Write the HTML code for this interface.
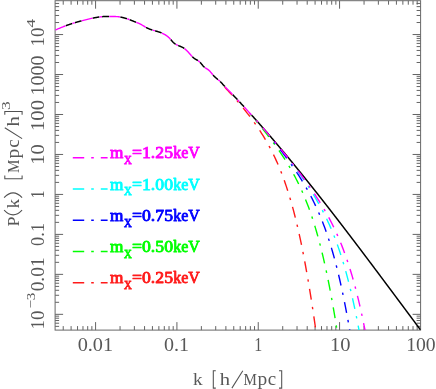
<!DOCTYPE html>
<html><head><meta charset="utf-8"><title>P(k)</title>
<style>html,body{margin:0;padding:0;background:#fff;}svg{display:block;will-change:transform;}text{font-family:"Liberation Serif",serif;}</style></head>
<body>
<svg width="436" height="389" viewBox="0 0 436 389">
<rect width="436" height="389" fill="#fff"/>
<defs><clipPath id="c"><rect x="55.1" y="0.7" width="365.5" height="329.40000000000003"/></clipPath><clipPath id="cr"><rect x="218" y="0.7" width="202.60000000000002" height="329.40000000000003"/></clipPath></defs>
<path d="M63.22,330.1 v-4.0 M63.22,0.7 v4.0 M71.10,330.1 v-4.0 M71.10,0.7 v4.0 M77.54,330.1 v-4.0 M77.54,0.7 v4.0 M82.98,330.1 v-4.0 M82.98,0.7 v4.0 M87.70,330.1 v-4.0 M87.70,0.7 v4.0 M91.86,330.1 v-4.0 M91.86,0.7 v4.0 M95.58,330.1 v-8.0 M95.58,0.7 v8.0 M120.06,330.1 v-4.0 M120.06,0.7 v4.0 M134.38,330.1 v-4.0 M134.38,0.7 v4.0 M144.55,330.1 v-4.0 M144.55,0.7 v4.0 M152.43,330.1 v-4.0 M152.43,0.7 v4.0 M158.87,330.1 v-4.0 M158.87,0.7 v4.0 M164.31,330.1 v-4.0 M164.31,0.7 v4.0 M169.03,330.1 v-4.0 M169.03,0.7 v4.0 M173.19,330.1 v-4.0 M173.19,0.7 v4.0 M176.91,330.1 v-8.0 M176.91,0.7 v8.0 M201.39,330.1 v-4.0 M201.39,0.7 v4.0 M215.71,330.1 v-4.0 M215.71,0.7 v4.0 M225.88,330.1 v-4.0 M225.88,0.7 v4.0 M233.76,330.1 v-4.0 M233.76,0.7 v4.0 M240.20,330.1 v-4.0 M240.20,0.7 v4.0 M245.64,330.1 v-4.0 M245.64,0.7 v4.0 M250.36,330.1 v-4.0 M250.36,0.7 v4.0 M254.52,330.1 v-4.0 M254.52,0.7 v4.0 M258.24,330.1 v-8.0 M258.24,0.7 v8.0 M282.72,330.1 v-4.0 M282.72,0.7 v4.0 M297.04,330.1 v-4.0 M297.04,0.7 v4.0 M307.21,330.1 v-4.0 M307.21,0.7 v4.0 M315.09,330.1 v-4.0 M315.09,0.7 v4.0 M321.53,330.1 v-4.0 M321.53,0.7 v4.0 M326.97,330.1 v-4.0 M326.97,0.7 v4.0 M331.69,330.1 v-4.0 M331.69,0.7 v4.0 M335.85,330.1 v-4.0 M335.85,0.7 v4.0 M339.57,330.1 v-8.0 M339.57,0.7 v8.0 M364.05,330.1 v-4.0 M364.05,0.7 v4.0 M378.37,330.1 v-4.0 M378.37,0.7 v4.0 M388.54,330.1 v-4.0 M388.54,0.7 v4.0 M396.42,330.1 v-4.0 M396.42,0.7 v4.0 M402.86,330.1 v-4.0 M402.86,0.7 v4.0 M408.30,330.1 v-4.0 M408.30,0.7 v4.0 M413.02,330.1 v-4.0 M413.02,0.7 v4.0 M417.18,330.1 v-4.0 M417.18,0.7 v4.0 M55.1,326.37 h4.0 M420.6,326.37 h-4.0 M55.1,323.21 h4.0 M420.6,323.21 h-4.0 M55.1,320.53 h4.0 M420.6,320.53 h-4.0 M55.1,318.21 h4.0 M420.6,318.21 h-4.0 M55.1,316.17 h4.0 M420.6,316.17 h-4.0 M55.1,314.34 h8.0 M420.6,314.34 h-8.0 M55.1,302.31 h4.0 M420.6,302.31 h-4.0 M55.1,295.27 h4.0 M420.6,295.27 h-4.0 M55.1,290.28 h4.0 M420.6,290.28 h-4.0 M55.1,286.40 h4.0 M420.6,286.40 h-4.0 M55.1,283.24 h4.0 M420.6,283.24 h-4.0 M55.1,280.56 h4.0 M420.6,280.56 h-4.0 M55.1,278.24 h4.0 M420.6,278.24 h-4.0 M55.1,276.20 h4.0 M420.6,276.20 h-4.0 M55.1,274.37 h8.0 M420.6,274.37 h-8.0 M55.1,262.34 h4.0 M420.6,262.34 h-4.0 M55.1,255.30 h4.0 M420.6,255.30 h-4.0 M55.1,250.31 h4.0 M420.6,250.31 h-4.0 M55.1,246.43 h4.0 M420.6,246.43 h-4.0 M55.1,243.27 h4.0 M420.6,243.27 h-4.0 M55.1,240.59 h4.0 M420.6,240.59 h-4.0 M55.1,238.27 h4.0 M420.6,238.27 h-4.0 M55.1,236.23 h4.0 M420.6,236.23 h-4.0 M55.1,234.40 h8.0 M420.6,234.40 h-8.0 M55.1,222.37 h4.0 M420.6,222.37 h-4.0 M55.1,215.33 h4.0 M420.6,215.33 h-4.0 M55.1,210.34 h4.0 M420.6,210.34 h-4.0 M55.1,206.46 h4.0 M420.6,206.46 h-4.0 M55.1,203.30 h4.0 M420.6,203.30 h-4.0 M55.1,200.62 h4.0 M420.6,200.62 h-4.0 M55.1,198.30 h4.0 M420.6,198.30 h-4.0 M55.1,196.26 h4.0 M420.6,196.26 h-4.0 M55.1,194.43 h8.0 M420.6,194.43 h-8.0 M55.1,182.40 h4.0 M420.6,182.40 h-4.0 M55.1,175.36 h4.0 M420.6,175.36 h-4.0 M55.1,170.37 h4.0 M420.6,170.37 h-4.0 M55.1,166.49 h4.0 M420.6,166.49 h-4.0 M55.1,163.33 h4.0 M420.6,163.33 h-4.0 M55.1,160.65 h4.0 M420.6,160.65 h-4.0 M55.1,158.33 h4.0 M420.6,158.33 h-4.0 M55.1,156.29 h4.0 M420.6,156.29 h-4.0 M55.1,154.46 h8.0 M420.6,154.46 h-8.0 M55.1,142.43 h4.0 M420.6,142.43 h-4.0 M55.1,135.39 h4.0 M420.6,135.39 h-4.0 M55.1,130.40 h4.0 M420.6,130.40 h-4.0 M55.1,126.52 h4.0 M420.6,126.52 h-4.0 M55.1,123.36 h4.0 M420.6,123.36 h-4.0 M55.1,120.68 h4.0 M420.6,120.68 h-4.0 M55.1,118.36 h4.0 M420.6,118.36 h-4.0 M55.1,116.32 h4.0 M420.6,116.32 h-4.0 M55.1,114.49 h8.0 M420.6,114.49 h-8.0 M55.1,102.46 h4.0 M420.6,102.46 h-4.0 M55.1,95.42 h4.0 M420.6,95.42 h-4.0 M55.1,90.43 h4.0 M420.6,90.43 h-4.0 M55.1,86.55 h4.0 M420.6,86.55 h-4.0 M55.1,83.39 h4.0 M420.6,83.39 h-4.0 M55.1,80.71 h4.0 M420.6,80.71 h-4.0 M55.1,78.39 h4.0 M420.6,78.39 h-4.0 M55.1,76.35 h4.0 M420.6,76.35 h-4.0 M55.1,74.52 h8.0 M420.6,74.52 h-8.0 M55.1,62.49 h4.0 M420.6,62.49 h-4.0 M55.1,55.45 h4.0 M420.6,55.45 h-4.0 M55.1,50.46 h4.0 M420.6,50.46 h-4.0 M55.1,46.58 h4.0 M420.6,46.58 h-4.0 M55.1,43.42 h4.0 M420.6,43.42 h-4.0 M55.1,40.74 h4.0 M420.6,40.74 h-4.0 M55.1,38.42 h4.0 M420.6,38.42 h-4.0 M55.1,36.38 h4.0 M420.6,36.38 h-4.0 M55.1,34.55 h8.0 M420.6,34.55 h-8.0 M55.1,22.52 h4.0 M420.6,22.52 h-4.0 M55.1,15.48 h4.0 M420.6,15.48 h-4.0 M55.1,10.49 h4.0 M420.6,10.49 h-4.0 M55.1,6.61 h4.0 M420.6,6.61 h-4.0 M55.1,3.45 h4.0 M420.6,3.45 h-4.0" stroke="#5c5c5c" stroke-width="0.95" fill="none"/>
<rect x="55.1" y="0.7" width="365.5" height="329.40000000000003" fill="none" stroke="#686868" stroke-width="1"/>
<g clip-path="url(#c)" fill="none">
<path d="M55.40,29.92 L55.65,29.82 L55.90,29.73 L56.15,29.63 L56.40,29.53 L56.65,29.42 L56.90,29.32 L57.15,29.22 L57.40,29.12 L57.65,29.01 L57.90,28.91 L58.15,28.80 L58.40,28.70 L58.65,28.59 L58.90,28.49 L59.15,28.38 L59.40,28.28 L59.65,28.17 L59.90,28.07 L60.15,27.96 L60.40,27.86 L60.65,27.75 L60.90,27.65 L61.15,27.54 L61.40,27.44 L61.65,27.34 L61.90,27.24 L62.15,27.14 L62.40,27.03 L62.65,26.93 L62.90,26.83 L63.15,26.74 L63.40,26.64 L63.65,26.54 L63.90,26.44 L64.15,26.35 L64.40,26.25 L64.65,26.15 L64.90,26.06 L65.15,25.96 L65.40,25.87 L65.65,25.78 L65.90,25.68 L66.15,25.59 L66.40,25.50 L66.65,25.41 L66.90,25.32 L67.15,25.23 L67.40,25.14 L67.65,25.05 L67.90,24.96 L68.15,24.87 L68.40,24.79 L68.65,24.70 L68.90,24.61 L69.15,24.53 L69.40,24.44 L69.65,24.36 L69.90,24.27 L70.15,24.19 L70.40,24.11 L70.65,24.02 L70.90,23.94 L71.15,23.86 L71.40,23.78 L71.65,23.70 L71.90,23.62 L72.15,23.54 L72.40,23.46 L72.65,23.38 L72.90,23.30 L73.15,23.22 L73.40,23.14 L73.65,23.07 L73.90,22.99 L74.15,22.91 L74.40,22.84 L74.65,22.76 L74.90,22.69 L75.15,22.61 L75.40,22.54 L75.65,22.47 L75.90,22.39 L76.15,22.32 L76.40,22.25 L76.65,22.18 L76.90,22.10 L77.15,22.03 L77.40,21.96 L77.65,21.89 L77.90,21.82 L78.15,21.75 L78.40,21.68 L78.65,21.61 L78.90,21.54 L79.15,21.48 L79.40,21.41 L79.65,21.34 L79.90,21.27 L80.15,21.20 L80.40,21.14 L80.65,21.07 L80.90,21.00 L81.15,20.94 L81.40,20.87 L81.65,20.81 L81.90,20.74 L82.15,20.68 L82.40,20.61 L82.65,20.55 L82.90,20.48 L83.15,20.42 L83.40,20.35 L83.65,20.29 L83.90,20.23 L84.15,20.16 L84.40,20.10 L84.65,20.04 L84.90,19.97 L85.15,19.91 L85.40,19.85 L85.65,19.79 L85.90,19.73 L86.15,19.66 L86.40,19.60 L86.65,19.54 L86.90,19.48 L87.15,19.42 L87.40,19.36 L87.65,19.30 L87.90,19.24 L88.15,19.18 L88.40,19.12 L88.65,19.06 L88.90,19.00 L89.15,18.95 L89.40,18.89 L89.65,18.83 L89.90,18.77 L90.15,18.72 L90.40,18.66 L90.65,18.60 L90.90,18.55 L91.15,18.49 L91.40,18.44 L91.65,18.38 L91.90,18.33 L92.15,18.28 L92.40,18.22 L92.65,18.17 L92.90,18.12 L93.15,18.07 L93.40,18.01 L93.65,17.96 L93.90,17.91 L94.15,17.86 L94.40,17.81 L94.65,17.76 L94.90,17.71 L95.15,17.67 L95.40,17.62 L95.65,17.57 L95.90,17.53 L96.15,17.48 L96.40,17.43 L96.65,17.39 L96.90,17.35 L97.15,17.30 L97.40,17.26 L97.65,17.22 L97.90,17.18 L98.15,17.14 L98.40,17.10 L98.65,17.06 L98.90,17.03 L99.15,16.99 L99.40,16.96 L99.65,16.92 L99.90,16.89 L100.15,16.86 L100.40,16.83 L100.65,16.81 L100.90,16.78 L101.15,16.75 L101.40,16.73 L101.65,16.71 L101.90,16.69 L102.15,16.67 L102.40,16.65 L102.65,16.64 L102.90,16.62 L103.15,16.61 L103.40,16.59 L103.65,16.58 L103.90,16.57 L104.15,16.56 L104.40,16.55 L104.65,16.54 L104.90,16.53 L105.15,16.53 L105.40,16.52 L105.65,16.51 L105.90,16.51 L106.15,16.51 L106.40,16.50 L106.65,16.50 L106.90,16.50 L107.15,16.49 L107.40,16.49 L107.65,16.49 L107.90,16.49 L108.15,16.49 L108.40,16.49 L108.65,16.49 L108.90,16.49 L109.15,16.49 L109.40,16.49 L109.65,16.49 L109.90,16.49 L110.15,16.49 L110.40,16.49 L110.65,16.49 L110.90,16.49 L111.15,16.49 L111.40,16.50 L111.65,16.50 L111.90,16.50 L112.15,16.50 L112.40,16.50 L112.65,16.50 L112.90,16.50 L113.15,16.50 L113.40,16.51 L113.65,16.51 L113.90,16.51 L114.15,16.51 L114.40,16.52 L114.65,16.52 L114.90,16.53 L115.15,16.53 L115.40,16.54 L115.65,16.55 L115.90,16.56 L116.15,16.57 L116.40,16.58 L116.65,16.60 L116.90,16.61 L117.15,16.63 L117.40,16.65 L117.65,16.68 L117.90,16.70 L118.15,16.73 L118.40,16.76 L118.65,16.79 L118.90,16.82 L119.15,16.85 L119.40,16.89 L119.65,16.93 L119.90,16.97 L120.15,17.02 L120.40,17.06 L120.65,17.11 L120.90,17.15 L121.15,17.20 L121.40,17.26 L121.65,17.31 L121.90,17.36 L122.15,17.42 L122.40,17.48 L122.65,17.54 L122.90,17.60 L123.15,17.66 L123.40,17.72 L123.65,17.79 L123.90,17.85 L124.15,17.92 L124.40,17.99 L124.65,18.06 L124.90,18.13 L125.15,18.20 L125.40,18.27 L125.65,18.34 L125.90,18.42 L126.15,18.49 L126.40,18.57 L126.65,18.65 L126.90,18.73 L127.15,18.81 L127.40,18.89 L127.65,18.98 L127.90,19.06 L128.15,19.15 L128.40,19.24 L128.65,19.33 L128.90,19.42 L129.15,19.51 L129.40,19.60 L129.65,19.69 L129.90,19.79 L130.15,19.89 L130.40,19.98 L130.65,20.08 L130.90,20.18 L131.15,20.28 L131.40,20.38 L131.65,20.49 L131.90,20.59 L132.15,20.69 L132.40,20.79 L132.65,20.90 L132.90,21.00 L133.15,21.10 L133.40,21.21 L133.65,21.31 L133.90,21.41 L134.15,21.52 L134.40,21.62 L134.65,21.72 L134.90,21.82 L135.15,21.92 L135.40,22.02 L135.65,22.12 L135.90,22.22 L136.15,22.31 L136.40,22.41 L136.65,22.51 L136.90,22.61 L137.15,22.71 L137.40,22.81 L137.65,22.91 L137.90,23.01 L138.15,23.12 L138.40,23.22 L138.65,23.33 L138.90,23.44 L139.15,23.55 L139.40,23.67 L139.65,23.78 L139.90,23.90 L140.15,24.02 L140.40,24.15 L140.65,24.28 L140.90,24.41 L141.15,24.54 L141.40,24.68 L141.65,24.82 L141.90,24.96 L142.15,25.11 L142.40,25.25 L142.65,25.40 L142.90,25.55 L143.15,25.70 L143.40,25.85 L143.65,26.00 L143.90,26.15 L144.15,26.30 L144.40,26.45 L144.65,26.59 L144.90,26.74 L145.15,26.89 L145.40,27.03 L145.65,27.17 L145.90,27.31 L146.15,27.45 L146.40,27.58 L146.65,27.71 L146.90,27.84 L147.15,27.96 L147.40,28.09 L147.65,28.21 L147.90,28.32 L148.15,28.44 L148.40,28.55 L148.65,28.66 L148.90,28.77 L149.15,28.87 L149.40,28.98 L149.65,29.08 L149.90,29.17 L150.15,29.27 L150.40,29.36 L150.65,29.46 L150.90,29.55 L151.15,29.64 L151.40,29.72 L151.65,29.81 L151.90,29.89 L152.15,29.97 L152.40,30.05 L152.65,30.13 L152.90,30.21 L153.15,30.28 L153.40,30.36 L153.65,30.43 L153.90,30.51 L154.15,30.58 L154.40,30.65 L154.65,30.72 L154.90,30.79 L155.15,30.86 L155.40,30.92 L155.65,30.99 L155.90,31.06 L156.15,31.13 L156.40,31.20 L156.65,31.27 L156.90,31.34 L157.15,31.41 L157.40,31.48 L157.65,31.55 L157.90,31.63 L158.15,31.70 L158.40,31.78 L158.65,31.85 L158.90,31.93 L159.15,32.01 L159.40,32.10 L159.65,32.18 L159.90,32.27 L160.15,32.36 L160.40,32.45 L160.65,32.54 L160.90,32.64 L161.15,32.74 L161.40,32.84 L161.65,32.95 L161.90,33.05 L162.15,33.16 L162.40,33.28 L162.65,33.40 L162.90,33.52 L163.15,33.64 L163.40,33.77 L163.65,33.90 L163.90,34.03 L164.15,34.17 L164.40,34.31 L164.65,34.45 L164.90,34.60 L165.15,34.75 L165.40,34.91 L165.65,35.07 L165.90,35.23 L166.15,35.40 L166.40,35.57 L166.65,35.75 L166.90,35.93 L167.15,36.12 L167.40,36.31 L167.65,36.51 L167.90,36.71 L168.15,36.92 L168.40,37.14 L168.65,37.36 L168.90,37.60 L169.15,37.84 L169.40,38.08 L169.65,38.34 L169.90,38.60 L170.15,38.87 L170.40,39.15 L170.65,39.43 L170.90,39.72 L171.15,40.01 L171.40,40.30 L171.65,40.59 L171.90,40.88 L172.15,41.17 L172.40,41.45 L172.65,41.73 L172.90,41.99 L173.15,42.25 L173.40,42.50 L173.65,42.73 L173.90,42.96 L174.15,43.17 L174.40,43.37 L174.65,43.57 L174.90,43.75 L175.15,43.93 L175.40,44.10 L175.65,44.25 L175.90,44.41 L176.15,44.55 L176.40,44.69 L176.65,44.82 L176.90,44.95 L177.15,45.07 L177.40,45.19 L177.65,45.30 L177.90,45.41 L178.15,45.52 L178.40,45.62 L178.65,45.72 L178.90,45.82 L179.15,45.92 L179.40,46.02 L179.65,46.11 L179.90,46.21 L180.15,46.31 L180.40,46.41 L180.65,46.51 L180.90,46.61 L181.15,46.72 L181.40,46.83 L181.65,46.94 L181.90,47.06 L182.15,47.18 L182.40,47.31 L182.65,47.44 L182.90,47.58 L183.15,47.72 L183.40,47.87 L183.65,48.03 L183.90,48.20 L184.15,48.38 L184.40,48.56 L184.65,48.75 L184.90,48.95 L185.15,49.15 L185.40,49.37 L185.65,49.58 L185.90,49.81 L186.15,50.04 L186.40,50.28 L186.65,50.52 L186.90,50.77 L187.15,51.02 L187.40,51.27 L187.65,51.53 L187.90,51.80 L188.15,52.07 L188.40,52.34 L188.65,52.62 L188.90,52.89 L189.15,53.17 L189.40,53.45 L189.65,53.73 L189.90,54.01 L190.15,54.29 L190.40,54.57 L190.65,54.85 L190.90,55.13 L191.15,55.40 L191.40,55.67 L191.65,55.94 L191.90,56.20 L192.15,56.46 L192.40,56.71 L192.65,56.96 L192.90,57.20 L193.15,57.43 L193.40,57.65 L193.65,57.87 L193.90,58.08 L194.15,58.28 L194.40,58.48 L194.65,58.66 L194.90,58.83 L195.15,59.00 L195.40,59.15 L195.65,59.30 L195.90,59.44 L196.15,59.58 L196.40,59.71 L196.65,59.85 L196.90,59.98 L197.15,60.11 L197.40,60.25 L197.65,60.40 L197.90,60.55 L198.15,60.71 L198.40,60.88 L198.65,61.06 L198.90,61.25 L199.15,61.46 L199.40,61.68 L199.65,61.92 L199.90,62.17 L200.15,62.44 L200.40,62.71 L200.65,62.99 L200.90,63.28 L201.15,63.58 L201.40,63.88 L201.65,64.18 L201.90,64.48 L202.15,64.78 L202.40,65.08 L202.65,65.37 L202.90,65.66 L203.15,65.94 L203.40,66.20 L203.65,66.46 L203.90,66.71 L204.15,66.94 L204.40,67.15 L204.65,67.35 L204.90,67.55 L205.15,67.73 L205.40,67.90 L205.65,68.07 L205.90,68.23 L206.15,68.39 L206.40,68.54 L206.65,68.70 L206.90,68.85 L207.15,69.01 L207.40,69.17 L207.65,69.34 L207.90,69.51 L208.15,69.69 L208.40,69.88 L208.65,70.09 L208.90,70.30 L209.15,70.53 L209.40,70.77 L209.65,71.02 L209.90,71.29 L210.15,71.56 L210.40,71.84 L210.65,72.13 L210.90,72.43 L211.15,72.72 L211.40,73.03 L211.65,73.33 L211.90,73.64 L212.15,73.94 L212.40,74.24 L212.65,74.54 L212.90,74.84 L213.15,75.13 L213.40,75.41 L213.65,75.69 L213.90,75.96 L214.15,76.22 L214.40,76.47 L214.65,76.71 L214.90,76.95 L215.15,77.18 L215.40,77.40 L215.65,77.62 L215.90,77.84 L216.15,78.05 L216.40,78.26 L216.65,78.47 L216.90,78.67 L217.15,78.88 L217.40,79.08 L217.65,79.29 L217.90,79.49 L218.15,79.70 L218.40,79.91 L218.65,80.12 L218.90,80.34 L219.15,80.56 L219.40,80.79 L219.65,81.02 L219.90,81.26 L220.15,81.51 L220.40,81.75 L220.65,82.00 L220.90,82.26 L221.15,82.52 L221.40,82.78 L221.65,83.05 L221.90,83.31 L222.15,83.58 L222.40,83.85 L222.65,84.13 L222.90,84.40 L223.15,84.68 L223.40,84.95 L223.65,85.23 L223.90,85.50 L224.15,85.78 L224.40,86.05 L224.65,86.33 L224.90,86.60 L225.15,86.87 L225.40,87.14 L225.65,87.41 L225.90,87.67 L226.15,87.94 L226.40,88.20 L226.65,88.46 L226.90,88.72 L227.15,88.98 L227.40,89.24 L227.65,89.50 L227.90,89.76 L228.15,90.01 L228.40,90.27 L228.65,90.52 L228.90,90.78 L229.15,91.03 L229.40,91.29 L229.65,91.54 L229.90,91.79 L230.15,92.05 L230.40,92.30 L230.65,92.55 L230.90,92.81 L231.15,93.06 L231.40,93.32 L231.65,93.57 L231.90,93.83 L232.15,94.09 L232.40,94.35 L232.65,94.60 L232.90,94.86 L233.15,95.12 L233.40,95.38 L233.65,95.64 L233.90,95.90 L234.15,96.17 L234.40,96.43 L234.65,96.69 L234.90,96.96 L235.15,97.22 L235.40,97.49 L235.65,97.75 L235.90,98.02 L236.15,98.28 L236.40,98.55 L236.65,98.81 L236.90,99.08 L237.15,99.35 L237.40,99.62 L237.65,99.88 L237.90,100.15 L238.15,100.42 L238.40,100.69 L238.65,100.96 L238.90,101.23 L239.15,101.50 L239.40,101.77 L239.65,102.04 L239.90,102.31 L240.15,102.57 L240.40,102.84 L240.65,103.11 L240.90,103.38 L241.15,103.65 L241.40,103.92 L241.65,104.19 L241.90,104.46 L242.15,104.73 L242.40,105.00 L242.65,105.28 L242.90,105.55 L243.15,105.82 L243.40,106.09 L243.65,106.36 L243.90,106.63 L244.15,106.90 L244.40,107.17 L244.65,107.44 L244.90,107.72 L245.15,107.99 L245.40,108.26 L245.65,108.53 L245.90,108.80 L246.15,109.08 L246.40,109.35 L246.65,109.62 L246.90,109.90 L247.15,110.17 L247.40,110.44 L247.65,110.72 L247.90,110.99 L248.15,111.27 L248.40,111.54 L248.65,111.81 L248.90,112.09 L249.15,112.36 L249.40,112.64 L249.65,112.92 L249.90,113.19 L250.15,113.47 L250.40,113.74 L250.65,114.02 L250.90,114.30 L251.15,114.57 L251.40,114.85 L251.55,115.02" stroke="#000" stroke-width="1.5" stroke-dasharray="0 11.2 6.85 2.8 6.85 0.2" stroke-linejoin="round"/>
<path d="M251.55,115.02 L251.65,115.13 L251.90,115.41 L252.15,115.68 L252.40,115.96 L252.65,116.24 L252.90,116.52 L253.15,116.80 L253.40,117.08 L253.65,117.36 L253.90,117.63 L254.15,117.91 L254.40,118.19 L254.65,118.47 L254.90,118.75 L255.15,119.03 L255.40,119.31 L255.65,119.59 L255.90,119.87 L256.15,120.15 L256.40,120.44 L256.65,120.72 L256.90,121.00 L257.15,121.28 L257.40,121.56 L257.65,121.84 L257.90,122.13 L258.15,122.41 L258.40,122.69 L258.65,122.97 L258.90,123.25 L259.15,123.54 L259.40,123.82 L259.65,124.10 L259.90,124.39 L260.15,124.67 L260.40,124.95 L260.65,125.24 L260.90,125.52 L261.15,125.81 L261.40,126.09 L261.65,126.38 L261.90,126.66 L262.15,126.95 L262.40,127.23 L262.65,127.52 L262.90,127.80 L263.15,128.09 L263.40,128.37 L263.65,128.66 L263.90,128.95 L264.15,129.23 L264.40,129.52 L264.65,129.80 L264.90,130.09 L265.15,130.38 L265.40,130.67 L265.65,130.95 L265.90,131.24 L266.15,131.53 L266.40,131.82 L266.65,132.10 L266.90,132.39 L267.15,132.68 L267.40,132.97 L267.65,133.26 L267.90,133.55 L268.15,133.84 L268.40,134.13 L268.65,134.42 L268.90,134.71 L269.15,135.00 L269.40,135.29 L269.65,135.58 L269.90,135.87 L270.15,136.16 L270.40,136.45 L270.65,136.74 L270.90,137.03 L271.15,137.32 L271.40,137.61 L271.65,137.90 L271.90,138.19 L272.15,138.49 L272.40,138.78 L272.65,139.07 L272.90,139.36 L273.15,139.65 L273.40,139.95 L273.65,140.24 L273.90,140.53 L274.15,140.83 L274.40,141.12 L274.65,141.41 L274.90,141.71 L275.15,142.00 L275.40,142.29 L275.65,142.59 L275.90,142.88 L276.15,143.18 L276.40,143.47 L276.65,143.77 L276.90,144.06 L277.15,144.36 L277.40,144.65 L277.65,144.95 L277.90,145.24 L278.15,145.54 L278.40,145.83 L278.65,146.13 L278.90,146.43 L279.15,146.72 L279.40,147.02 L279.65,147.31 L279.90,147.61 L280.15,147.91 L280.40,148.21 L280.65,148.50 L280.90,148.80 L281.15,149.10 L281.40,149.39 L281.65,149.69 L281.90,149.99 L282.15,150.29 L282.40,150.59 L282.65,150.89 L282.90,151.18 L283.15,151.48 L283.40,151.78 L283.65,152.08 L283.90,152.38 L284.15,152.68 L284.40,152.98 L284.65,153.28 L284.90,153.58 L285.15,153.88 L285.40,154.18 L285.65,154.48 L285.90,154.78 L286.15,155.08 L286.40,155.38 L286.65,155.68 L286.90,155.98 L287.15,156.28 L287.40,156.58 L287.65,156.88 L287.90,157.19 L288.15,157.49 L288.40,157.79 L288.65,158.09 L288.90,158.39 L289.15,158.70 L289.40,159.00 L289.65,159.30 L289.90,159.60 L290.15,159.91 L290.40,160.21 L290.65,160.51 L290.90,160.82 L291.15,161.12 L291.40,161.42 L291.65,161.73 L291.90,162.03 L292.15,162.33 L292.40,162.64 L292.65,162.94 L292.90,163.25 L293.15,163.55 L293.40,163.86 L293.65,164.16 L293.90,164.47 L294.15,164.77 L294.40,165.08 L294.65,165.38 L294.90,165.69 L295.15,165.99 L295.40,166.30 L295.65,166.60 L295.90,166.91 L296.15,167.22 L296.40,167.52 L296.65,167.83 L296.90,168.13 L297.15,168.44 L297.40,168.75 L297.65,169.05 L297.90,169.36 L298.15,169.67 L298.40,169.98 L298.65,170.28 L298.90,170.59 L299.15,170.90 L299.40,171.21 L299.65,171.51 L299.90,171.82 L300.15,172.13 L300.40,172.44 L300.65,172.75 L300.90,173.06 L301.15,173.37 L301.40,173.67 L301.65,173.98 L301.90,174.29 L302.15,174.60 L302.40,174.91 L302.65,175.22 L302.90,175.53 L303.15,175.84 L303.40,176.15 L303.65,176.46 L303.90,176.77 L304.15,177.08 L304.40,177.39 L304.65,177.70 L304.90,178.01 L305.15,178.32 L305.40,178.63 L305.65,178.94 L305.90,179.26 L306.15,179.57 L306.40,179.88 L306.65,180.19 L306.90,180.50 L307.15,180.81 L307.40,181.12 L307.65,181.44 L307.90,181.75 L308.15,182.06 L308.40,182.37 L308.65,182.69 L308.90,183.00 L309.15,183.31 L309.40,183.62 L309.65,183.94 L309.90,184.25 L310.15,184.56 L310.40,184.88 L310.65,185.19 L310.90,185.50 L311.15,185.82 L311.40,186.13 L311.65,186.44 L311.90,186.76 L312.15,187.07 L312.40,187.39 L312.65,187.70 L312.90,188.02 L313.15,188.33 L313.40,188.64 L313.65,188.96 L313.90,189.27 L314.15,189.59 L314.40,189.90 L314.65,190.22 L314.90,190.53 L315.15,190.85 L315.40,191.17 L315.65,191.48 L315.90,191.80 L316.15,192.11 L316.40,192.43 L316.65,192.75 L316.90,193.06 L317.15,193.38 L317.40,193.69 L317.65,194.01 L317.90,194.33 L318.15,194.64 L318.40,194.96 L318.65,195.28 L318.90,195.60 L319.15,195.91 L319.40,196.23 L319.65,196.55 L319.90,196.86 L320.15,197.18 L320.40,197.50 L320.65,197.82 L320.90,198.14 L321.15,198.45 L321.40,198.77 L321.65,199.09 L321.90,199.41 L322.15,199.73 L322.40,200.05 L322.65,200.36 L322.90,200.68 L323.15,201.00 L323.40,201.32 L323.65,201.64 L323.90,201.96 L324.15,202.28 L324.40,202.60 L324.65,202.92 L324.90,203.24 L325.15,203.56 L325.40,203.88 L325.65,204.20 L325.90,204.52 L326.15,204.84 L326.40,205.16 L326.65,205.48 L326.90,205.80 L327.15,206.12 L327.40,206.44 L327.65,206.76 L327.90,207.08 L328.15,207.40 L328.40,207.72 L328.65,208.04 L328.90,208.36 L329.15,208.68 L329.40,209.01 L329.65,209.33 L329.90,209.65 L330.15,209.97 L330.40,210.29 L330.65,210.61 L330.90,210.94 L331.15,211.26 L331.40,211.58 L331.65,211.90 L331.90,212.22 L332.15,212.55 L332.40,212.87 L332.65,213.19 L332.90,213.51 L333.15,213.84 L333.40,214.16 L333.65,214.48 L333.90,214.80 L334.15,215.13 L334.40,215.45 L334.65,215.77 L334.90,216.10 L335.15,216.42 L335.40,216.74 L335.65,217.07 L335.90,217.39 L336.15,217.71 L336.40,218.04 L336.65,218.36 L336.90,218.69 L337.15,219.01 L337.40,219.33 L337.65,219.66 L337.90,219.98 L338.15,220.31 L338.40,220.63 L338.65,220.96 L338.90,221.28 L339.15,221.61 L339.40,221.93 L339.65,222.26 L339.90,222.58 L340.15,222.91 L340.40,223.23 L340.65,223.56 L340.90,223.88 L341.15,224.21 L341.40,224.53 L341.65,224.86 L341.90,225.18 L342.15,225.51 L342.40,225.83 L342.65,226.16 L342.90,226.49 L343.15,226.81 L343.40,227.14 L343.65,227.46 L343.90,227.79 L344.15,228.12 L344.40,228.44 L344.65,228.77 L344.90,229.10 L345.15,229.42 L345.40,229.75 L345.65,230.08 L345.90,230.40 L346.15,230.73 L346.40,231.06 L346.65,231.38 L346.90,231.71 L347.15,232.04 L347.40,232.37 L347.65,232.69 L347.90,233.02 L348.15,233.35 L348.40,233.68 L348.65,234.00 L348.90,234.33 L349.15,234.66 L349.40,234.99 L349.65,235.31 L349.90,235.64 L350.15,235.97 L350.40,236.30 L350.65,236.63 L350.90,236.95 L351.15,237.28 L351.40,237.61 L351.65,237.94 L351.90,238.27 L352.15,238.60 L352.40,238.93 L352.65,239.25 L352.90,239.58 L353.15,239.91 L353.40,240.24 L353.65,240.57 L353.90,240.90 L354.15,241.23 L354.40,241.56 L354.65,241.89 L354.90,242.22 L355.15,242.55 L355.40,242.87 L355.65,243.20 L355.90,243.53 L356.15,243.86 L356.40,244.19 L356.65,244.52 L356.90,244.85 L357.15,245.18 L357.40,245.51 L357.65,245.84 L357.90,246.17 L358.15,246.50 L358.40,246.83 L358.65,247.16 L358.90,247.49 L359.15,247.82 L359.40,248.15 L359.65,248.48 L359.90,248.81 L360.15,249.14 L360.40,249.48 L360.65,249.81 L360.90,250.14 L361.15,250.47 L361.40,250.80 L361.65,251.13 L361.90,251.46 L362.15,251.79 L362.40,252.12 L362.65,252.45 L362.90,252.78 L363.15,253.12 L363.40,253.45 L363.65,253.78 L363.90,254.11 L364.15,254.44 L364.40,254.77 L364.65,255.10 L364.90,255.43 L365.15,255.77 L365.40,256.10 L365.65,256.43 L365.90,256.76 L366.15,257.09 L366.40,257.43 L366.65,257.76 L366.90,258.09 L367.15,258.42 L367.40,258.75 L367.65,259.09 L367.90,259.42 L368.15,259.75 L368.40,260.08 L368.65,260.41 L368.90,260.75 L369.15,261.08 L369.40,261.41 L369.65,261.74 L369.90,262.08 L370.15,262.41 L370.40,262.74 L370.65,263.07 L370.90,263.41 L371.15,263.74 L371.40,264.07 L371.65,264.40 L371.90,264.74 L372.15,265.07 L372.40,265.40 L372.65,265.74 L372.90,266.07 L373.15,266.40 L373.40,266.74 L373.65,267.07 L373.90,267.40 L374.15,267.73 L374.40,268.07 L374.65,268.40 L374.90,268.73 L375.15,269.07 L375.40,269.40 L375.65,269.73 L375.90,270.07 L376.15,270.40 L376.40,270.74 L376.65,271.07 L376.90,271.40 L377.15,271.74 L377.40,272.07 L377.65,272.40 L377.90,272.74 L378.15,273.07 L378.40,273.40 L378.65,273.74 L378.90,274.07 L379.15,274.41 L379.40,274.74 L379.65,275.07 L379.90,275.41 L380.15,275.74 L380.40,276.08 L380.65,276.41 L380.90,276.74 L381.15,277.08 L381.40,277.41 L381.65,277.75 L381.90,278.08 L382.15,278.42 L382.40,278.75 L382.65,279.08 L382.90,279.42 L383.15,279.75 L383.40,280.09 L383.65,280.42 L383.90,280.76 L384.15,281.09 L384.40,281.43 L384.65,281.76 L384.90,282.10 L385.15,282.43 L385.40,282.76 L385.65,283.10 L385.90,283.43 L386.15,283.77 L386.40,284.10 L386.65,284.44 L386.90,284.77 L387.15,285.11 L387.40,285.44 L387.65,285.78 L387.90,286.11 L388.15,286.45 L388.40,286.78 L388.65,287.12 L388.90,287.45 L389.15,287.79 L389.40,288.12 L389.65,288.46 L389.90,288.79 L390.15,289.13 L390.40,289.46 L390.65,289.80 L390.90,290.13 L391.15,290.47 L391.40,290.80 L391.65,291.14 L391.90,291.47 L392.15,291.81 L392.40,292.14 L392.65,292.48 L392.90,292.81 L393.15,293.15 L393.40,293.48 L393.65,293.82 L393.90,294.16 L394.15,294.49 L394.40,294.83 L394.65,295.16 L394.90,295.50 L395.15,295.83 L395.40,296.17 L395.65,296.50 L395.90,296.84 L396.15,297.17 L396.40,297.51 L396.65,297.85 L396.90,298.18 L397.15,298.52 L397.40,298.85 L397.65,299.19 L397.90,299.52 L398.15,299.86 L398.40,300.19 L398.65,300.53 L398.90,300.86 L399.15,301.20 L399.40,301.54 L399.65,301.87 L399.90,302.21 L400.15,302.54 L400.40,302.88 L400.65,303.21 L400.90,303.55 L401.15,303.89 L401.40,304.22 L401.65,304.56 L401.90,304.89 L402.15,305.23 L402.40,305.56 L402.65,305.90 L402.90,306.24 L403.15,306.57 L403.40,306.91 L403.65,307.24 L403.90,307.58 L404.15,307.91 L404.40,308.25 L404.65,308.58 L404.90,308.92 L405.15,309.26 L405.40,309.59 L405.65,309.93 L405.90,310.26 L406.15,310.60 L406.40,310.93 L406.65,311.27 L406.90,311.61 L407.15,311.94 L407.40,312.28 L407.65,312.61 L407.90,312.95 L408.15,313.28 L408.40,313.62 L408.65,313.96 L408.90,314.29 L409.15,314.63 L409.40,314.96 L409.65,315.30 L409.90,315.63 L410.15,315.97 L410.40,316.31 L410.65,316.64 L410.90,316.98 L411.15,317.31 L411.40,317.65 L411.65,317.98 L411.90,318.32 L412.15,318.66 L412.40,318.99 L412.65,319.33 L412.90,319.66 L413.15,320.00 L413.40,320.33 L413.65,320.67 L413.90,321.00 L414.15,321.34 L414.40,321.68 L414.65,322.01 L414.90,322.35 L415.15,322.68 L415.40,323.02 L415.65,323.35 L415.90,323.69 L416.15,324.02 L416.40,324.36 L416.65,324.69 L416.90,325.03 L417.15,325.37 L417.40,325.70 L417.65,326.04 L417.90,326.37 L418.15,326.71 L418.40,327.04 L418.65,327.38 L418.90,327.71 L419.15,328.05 L419.40,328.38 L419.65,328.72 L419.90,329.05 L420.15,329.39 L420.40,329.72 L420.65,330.06 L420.90,330.40 L421.15,330.73 L421.40,331.07" stroke="#000" stroke-width="1.5" stroke-linejoin="round"/>
<clipPath id="c_red"><rect x="221.4" y="0.7" width="199.2" height="329.40000000000003"/></clipPath>
<path d="M55.40,29.92 L56.40,29.53 L57.40,29.12 L58.40,28.70 L59.40,28.28 L60.40,27.86 L61.40,27.44 L62.40,27.03 L63.40,26.64 L64.40,26.25 L65.40,25.87 L66.40,25.50 L67.40,25.14 L68.40,24.79 L69.40,24.44 L70.40,24.11 L71.40,23.78 L72.40,23.46 L73.40,23.14 L74.40,22.84 L75.40,22.54 L76.40,22.25 L77.40,21.96 L78.40,21.68 L79.40,21.41 L80.40,21.14 L81.40,20.87 L82.40,20.61 L83.40,20.35 L84.40,20.10 L85.40,19.85 L86.40,19.60 L87.40,19.36 L88.40,19.12 L89.40,18.89 L90.40,18.66 L91.40,18.44 L92.40,18.22 L93.40,18.01 L94.40,17.81 L95.40,17.62 L96.40,17.43 L97.40,17.26 L98.40,17.10 L99.40,16.96 L100.40,16.83 L101.40,16.73 L102.40,16.65 L103.40,16.59 L104.40,16.55 L105.40,16.52 L106.40,16.50 L107.40,16.49 L108.40,16.49 L109.40,16.49 L110.40,16.49 L111.40,16.50 L112.40,16.50 L113.40,16.51 L114.40,16.52 L115.40,16.54 L116.40,16.58 L117.40,16.65 L118.40,16.76 L119.40,16.89 L120.40,17.06 L121.40,17.26 L122.40,17.48 L123.40,17.72 L124.40,17.99 L125.40,18.27 L126.40,18.57 L127.40,18.90 L128.40,19.24 L129.40,19.60 L130.40,19.99 L131.40,20.39 L132.40,20.80 L133.40,21.21 L134.40,21.62 L135.40,22.02 L136.40,22.42 L137.40,22.81 L138.40,23.23 L139.40,23.67 L140.40,24.15 L141.40,24.69 L142.40,25.26 L143.40,25.85 L144.40,26.45 L145.40,27.03 L146.40,27.58 L147.40,28.09 L148.40,28.56 L149.40,28.98 L150.40,29.37 L151.40,29.73 L152.40,30.06 L153.40,30.37 L154.40,30.66 L155.40,30.93 L156.40,31.21 L157.40,31.49 L158.40,31.79 L159.40,32.11 L160.40,32.46 L161.40,32.85 L162.40,33.29 L163.40,33.78 L164.40,34.32 L165.40,34.92 L166.40,35.59 L167.40,36.33 L168.40,37.16 L169.40,38.10 L170.40,39.17 L171.40,40.33 L172.40,41.48 L173.40,42.52 L174.40,43.40 L175.40,44.13 L176.40,44.72 L177.40,45.22 L178.40,45.66 L179.40,46.06 L180.40,46.45 L181.40,46.87 L182.40,47.35 L183.40,47.92 L184.40,48.61 L185.40,49.42 L186.40,50.34 L187.40,51.34 L188.40,52.41 L189.40,53.53 L190.40,54.65 L191.40,55.76 L192.40,56.80 L193.40,57.75 L194.40,58.58 L195.40,59.26 L196.40,59.83 L197.40,60.38 L198.40,61.01 L199.40,61.82 L200.40,62.86 L201.40,64.04 L202.40,65.25 L203.40,66.38 L204.40,67.34 L205.40,68.11 L206.40,68.76 L207.40,69.40 L208.40,70.13 L209.40,71.03 L210.40,72.12 L211.40,73.32 L212.40,74.56 L213.40,75.75 L214.40,76.83 L215.40,77.79 L216.40,78.67 L217.40,79.52 L218.40,80.37 L219.40,81.29 L220.40,82.28 L221.40,83.34 L222.40,84.45 L223.40,85.59 L224.40,86.73 L225.40,87.86 L226.40,88.97 L227.40,90.06 L228.40,91.14 L229.40,92.22 L230.40,93.29 L231.40,94.37 L232.40,95.47 L233.40,96.58 L234.40,97.71 L235.40,98.84 L236.40,100.00 L237.40,101.16 L238.40,102.33 L239.40,103.52 L240.40,104.71 L241.40,105.91 L242.40,107.12 L243.40,108.34 L244.40,109.57 L245.40,110.81 L246.40,112.07 L247.40,113.34 L248.40,114.62 L249.40,115.92 L250.40,117.24 L251.40,118.57 L252.40,119.92 L253.40,121.29 L254.40,122.68 L255.40,124.09 L256.40,125.52 L257.40,126.97 L258.40,128.45 L259.40,129.95 L260.40,131.48 L261.40,133.03 L262.40,134.61 L263.40,136.23 L264.40,137.87 L265.40,139.55 L266.40,141.27 L267.40,143.02 L268.40,144.81 L269.40,146.65 L270.40,148.52 L271.40,150.45 L272.40,152.42 L273.40,154.44 L274.40,156.52 L275.40,158.65 L276.40,160.84 L277.40,163.09 L278.40,165.41 L279.40,167.79 L280.40,170.24 L281.40,172.77 L282.40,175.38 L283.40,178.07 L284.40,180.84 L285.40,183.70 L286.40,186.65 L287.40,189.70 L288.40,192.84 L289.40,196.09 L290.40,199.45 L291.40,202.91 L292.40,206.50 L293.40,210.19 L294.40,214.01 L295.40,217.96 L296.40,222.03 L297.40,226.24 L298.40,230.58 L299.40,235.06 L300.40,239.68 L301.40,244.45 L302.40,249.36 L303.40,254.43 L304.40,259.64 L305.40,265.00 L306.40,270.53 L307.40,276.20 L308.40,282.03 L309.40,288.03 L310.40,294.17 L311.40,300.48 L312.40,306.94 L313.40,313.56 L314.40,320.34 L315.40,327.27 L316.40,334.35 L317.40,341.58 L318.40,348.97 L319.40,356.50" stroke="#ff1a1a" stroke-width="1.4" stroke-dasharray="11 7.25 2.4 7.25" stroke-linejoin="round" clip-path="url(#c_red)"/>
<clipPath id="c_green"><rect x="249.4" y="0.7" width="171.2" height="329.40000000000003"/></clipPath>
<path d="M55.40,29.92 L56.40,29.53 L57.40,29.12 L58.40,28.70 L59.40,28.28 L60.40,27.86 L61.40,27.44 L62.40,27.03 L63.40,26.64 L64.40,26.25 L65.40,25.87 L66.40,25.50 L67.40,25.14 L68.40,24.79 L69.40,24.44 L70.40,24.11 L71.40,23.78 L72.40,23.46 L73.40,23.14 L74.40,22.84 L75.40,22.54 L76.40,22.25 L77.40,21.96 L78.40,21.68 L79.40,21.41 L80.40,21.14 L81.40,20.87 L82.40,20.61 L83.40,20.35 L84.40,20.10 L85.40,19.85 L86.40,19.60 L87.40,19.36 L88.40,19.12 L89.40,18.89 L90.40,18.66 L91.40,18.44 L92.40,18.22 L93.40,18.01 L94.40,17.81 L95.40,17.62 L96.40,17.43 L97.40,17.26 L98.40,17.10 L99.40,16.96 L100.40,16.83 L101.40,16.73 L102.40,16.65 L103.40,16.59 L104.40,16.55 L105.40,16.52 L106.40,16.50 L107.40,16.49 L108.40,16.49 L109.40,16.49 L110.40,16.49 L111.40,16.50 L112.40,16.50 L113.40,16.51 L114.40,16.52 L115.40,16.54 L116.40,16.58 L117.40,16.65 L118.40,16.76 L119.40,16.89 L120.40,17.06 L121.40,17.26 L122.40,17.48 L123.40,17.72 L124.40,17.99 L125.40,18.27 L126.40,18.57 L127.40,18.89 L128.40,19.24 L129.40,19.60 L130.40,19.98 L131.40,20.38 L132.40,20.79 L133.40,21.21 L134.40,21.62 L135.40,22.02 L136.40,22.41 L137.40,22.81 L138.40,23.22 L139.40,23.67 L140.40,24.15 L141.40,24.68 L142.40,25.26 L143.40,25.85 L144.40,26.45 L145.40,27.03 L146.40,27.58 L147.40,28.09 L148.40,28.55 L149.40,28.98 L150.40,29.37 L151.40,29.72 L152.40,30.05 L153.40,30.36 L154.40,30.65 L155.40,30.93 L156.40,31.20 L157.40,31.48 L158.40,31.78 L159.40,32.10 L160.40,32.45 L161.40,32.84 L162.40,33.28 L163.40,33.77 L164.40,34.31 L165.40,34.91 L166.40,35.57 L167.40,36.31 L168.40,37.14 L169.40,38.09 L170.40,39.15 L171.40,40.31 L172.40,41.46 L173.40,42.50 L174.40,43.38 L175.40,44.10 L176.40,44.70 L177.40,45.20 L178.40,45.63 L179.40,46.02 L180.40,46.42 L181.40,46.84 L182.40,47.32 L183.40,47.88 L184.40,48.57 L185.40,49.38 L186.40,50.29 L187.40,51.29 L188.40,52.35 L189.40,53.47 L190.40,54.59 L191.40,55.69 L192.40,56.73 L193.40,57.67 L194.40,58.49 L195.40,59.17 L196.40,59.73 L197.40,60.28 L198.40,60.90 L199.40,61.71 L200.40,62.74 L201.40,63.91 L202.40,65.11 L203.40,66.24 L204.40,67.19 L205.40,67.94 L206.40,68.58 L207.40,69.22 L208.40,69.93 L209.40,70.82 L210.40,71.90 L211.40,73.08 L212.40,74.30 L213.40,75.48 L214.40,76.54 L215.40,77.48 L216.40,78.34 L217.40,79.16 L218.40,80.00 L219.40,80.89 L220.40,81.85 L221.40,82.89 L222.40,83.97 L223.40,85.07 L224.40,86.18 L225.40,87.28 L226.40,88.35 L227.40,89.40 L228.40,90.43 L229.40,91.46 L230.40,92.49 L231.40,93.52 L232.40,94.56 L233.40,95.61 L234.40,96.67 L235.40,97.74 L236.40,98.82 L237.40,99.91 L238.40,101.00 L239.40,102.10 L240.40,103.20 L241.40,104.30 L242.40,105.41 L243.40,106.52 L244.40,107.63 L245.40,108.75 L246.40,109.87 L247.40,111.00 L248.40,112.13 L249.40,113.27 L250.40,114.41 L251.40,115.56 L252.40,116.72 L253.40,117.89 L254.40,119.05 L255.40,120.23 L256.40,121.41 L257.40,122.60 L258.40,123.80 L259.40,125.00 L260.40,126.21 L261.40,127.43 L262.40,128.66 L263.40,129.89 L264.40,131.14 L265.40,132.39 L266.40,133.66 L267.40,134.93 L268.40,136.21 L269.40,137.51 L270.40,138.81 L271.40,140.13 L272.40,141.46 L273.40,142.80 L274.40,144.16 L275.40,145.53 L276.40,146.92 L277.40,148.32 L278.40,149.74 L279.40,151.18 L280.40,152.64 L281.40,154.11 L282.40,155.61 L283.40,157.12 L284.40,158.66 L285.40,160.23 L286.40,161.82 L287.40,163.44 L288.40,165.08 L289.40,166.75 L290.40,168.46 L291.40,170.20 L292.40,171.97 L293.40,173.78 L294.40,175.63 L295.40,177.52 L296.40,179.45 L297.40,181.42 L298.40,183.45 L299.40,185.52 L300.40,187.65 L301.40,189.83 L302.40,192.06 L303.40,194.36 L304.40,196.72 L305.40,199.15 L306.40,201.65 L307.40,204.22 L308.40,206.87 L309.40,209.59 L310.40,212.40 L311.40,215.30 L312.40,218.29 L313.40,221.37 L314.40,224.55 L315.40,227.83 L316.40,231.22 L317.40,234.71 L318.40,238.32 L319.40,242.05 L320.40,245.89 L321.40,249.86 L322.40,253.96 L323.40,258.19 L324.40,262.55 L325.40,267.05 L326.40,271.69 L327.40,276.47 L328.40,281.40 L329.40,286.48 L330.40,291.71 L331.40,297.09 L332.40,302.62 L333.40,308.31 L334.40,314.15 L335.40,320.15 L336.40,326.31 L337.40,332.63 L338.40,339.10 L339.40,345.73 L340.40,352.51 L341.40,359.45" stroke="#00ff00" stroke-width="1.4" stroke-dasharray="11 7.25 2.4 7.25" stroke-linejoin="round" clip-path="url(#c_green)"/>
<clipPath id="c_blue"><rect x="269.4" y="0.7" width="151.2" height="329.40000000000003"/></clipPath>
<path d="M55.40,29.92 L56.40,29.53 L57.40,29.12 L58.40,28.70 L59.40,28.28 L60.40,27.86 L61.40,27.44 L62.40,27.03 L63.40,26.64 L64.40,26.25 L65.40,25.87 L66.40,25.50 L67.40,25.14 L68.40,24.79 L69.40,24.44 L70.40,24.11 L71.40,23.78 L72.40,23.46 L73.40,23.14 L74.40,22.84 L75.40,22.54 L76.40,22.25 L77.40,21.96 L78.40,21.68 L79.40,21.41 L80.40,21.14 L81.40,20.87 L82.40,20.61 L83.40,20.35 L84.40,20.10 L85.40,19.85 L86.40,19.60 L87.40,19.36 L88.40,19.12 L89.40,18.89 L90.40,18.66 L91.40,18.44 L92.40,18.22 L93.40,18.01 L94.40,17.81 L95.40,17.62 L96.40,17.43 L97.40,17.26 L98.40,17.10 L99.40,16.96 L100.40,16.83 L101.40,16.73 L102.40,16.65 L103.40,16.59 L104.40,16.55 L105.40,16.52 L106.40,16.50 L107.40,16.49 L108.40,16.49 L109.40,16.49 L110.40,16.49 L111.40,16.50 L112.40,16.50 L113.40,16.51 L114.40,16.52 L115.40,16.54 L116.40,16.58 L117.40,16.65 L118.40,16.76 L119.40,16.89 L120.40,17.06 L121.40,17.26 L122.40,17.48 L123.40,17.72 L124.40,17.99 L125.40,18.27 L126.40,18.57 L127.40,18.89 L128.40,19.24 L129.40,19.60 L130.40,19.98 L131.40,20.38 L132.40,20.79 L133.40,21.21 L134.40,21.62 L135.40,22.02 L136.40,22.41 L137.40,22.81 L138.40,23.22 L139.40,23.67 L140.40,24.15 L141.40,24.68 L142.40,25.26 L143.40,25.85 L144.40,26.45 L145.40,27.03 L146.40,27.58 L147.40,28.09 L148.40,28.55 L149.40,28.98 L150.40,29.36 L151.40,29.72 L152.40,30.05 L153.40,30.36 L154.40,30.65 L155.40,30.93 L156.40,31.20 L157.40,31.48 L158.40,31.78 L159.40,32.10 L160.40,32.45 L161.40,32.84 L162.40,33.28 L163.40,33.77 L164.40,34.31 L165.40,34.91 L166.40,35.57 L167.40,36.31 L168.40,37.14 L169.40,38.08 L170.40,39.15 L171.40,40.31 L172.40,41.45 L173.40,42.50 L174.40,43.38 L175.40,44.10 L176.40,44.69 L177.40,45.19 L178.40,45.62 L179.40,46.02 L180.40,46.41 L181.40,46.83 L182.40,47.31 L183.40,47.88 L184.40,48.56 L185.40,49.37 L186.40,50.28 L187.40,51.28 L188.40,52.35 L189.40,53.46 L190.40,54.58 L191.40,55.68 L192.40,56.72 L193.40,57.66 L194.40,58.48 L195.40,59.16 L196.40,59.72 L197.40,60.26 L198.40,60.88 L199.40,61.69 L200.40,62.72 L201.40,63.89 L202.40,65.09 L203.40,66.22 L204.40,67.16 L205.40,67.92 L206.40,68.56 L207.40,69.19 L208.40,69.90 L209.40,70.79 L210.40,71.86 L211.40,73.05 L212.40,74.26 L213.40,75.44 L214.40,76.49 L215.40,77.43 L216.40,78.29 L217.40,79.11 L218.40,79.94 L219.40,80.83 L220.40,81.79 L221.40,82.82 L222.40,83.89 L223.40,85.00 L224.40,86.10 L225.40,87.19 L226.40,88.25 L227.40,89.30 L228.40,90.33 L229.40,91.35 L230.40,92.37 L231.40,93.39 L232.40,94.42 L233.40,95.46 L234.40,96.52 L235.40,97.58 L236.40,98.65 L237.40,99.72 L238.40,100.80 L239.40,101.89 L240.40,102.97 L241.40,104.06 L242.40,105.15 L243.40,106.24 L244.40,107.34 L245.40,108.43 L246.40,109.54 L247.40,110.64 L248.40,111.75 L249.40,112.87 L250.40,113.98 L251.40,115.11 L252.40,116.24 L253.40,117.37 L254.40,118.50 L255.40,119.64 L256.40,120.79 L257.40,121.94 L258.40,123.09 L259.40,124.25 L260.40,125.41 L261.40,126.57 L262.40,127.74 L263.40,128.92 L264.40,130.10 L265.40,131.29 L266.40,132.48 L267.40,133.68 L268.40,134.88 L269.40,136.09 L270.40,137.30 L271.40,138.52 L272.40,139.75 L273.40,140.98 L274.40,142.22 L275.40,143.46 L276.40,144.72 L277.40,145.98 L278.40,147.25 L279.40,148.52 L280.40,149.81 L281.40,151.10 L282.40,152.41 L283.40,153.72 L284.40,155.04 L285.40,156.37 L286.40,157.72 L287.40,159.07 L288.40,160.44 L289.40,161.82 L290.40,163.22 L291.40,164.63 L292.40,166.05 L293.40,167.49 L294.40,168.94 L295.40,170.41 L296.40,171.90 L297.40,173.41 L298.40,174.94 L299.40,176.49 L300.40,178.06 L301.40,179.66 L302.40,181.28 L303.40,182.93 L304.40,184.60 L305.40,186.30 L306.40,188.04 L307.40,189.80 L308.40,191.61 L309.40,193.44 L310.40,195.32 L311.40,197.23 L312.40,199.19 L313.40,201.19 L314.40,203.23 L315.40,205.33 L316.40,207.47 L317.40,209.68 L318.40,211.93 L319.40,214.25 L320.40,216.63 L321.40,219.08 L322.40,221.59 L323.40,224.18 L324.40,226.84 L325.40,229.58 L326.40,232.40 L327.40,235.31 L328.40,238.31 L329.40,241.40 L330.40,244.59 L331.40,247.88 L332.40,251.27 L333.40,254.78 L334.40,258.39 L335.40,262.12 L336.40,265.97 L337.40,269.94 L338.40,274.04 L339.40,278.27 L340.40,282.63 L341.40,287.13 L342.40,291.77 L343.40,296.55 L344.40,301.47 L345.40,306.54 L346.40,311.77 L347.40,317.14 L348.40,322.67 L349.40,328.35 L350.40,334.19 L351.40,340.18 L352.40,346.33 L353.40,352.64 L354.40,359.10" stroke="#0000ff" stroke-width="1.4" stroke-dasharray="11 7.25 2.4 7.25" stroke-linejoin="round" clip-path="url(#c_blue)"/>
<clipPath id="c_cyan"><rect x="290.4" y="0.7" width="130.2" height="329.40000000000003"/></clipPath>
<path d="M55.40,29.92 L56.40,29.53 L57.40,29.12 L58.40,28.70 L59.40,28.28 L60.40,27.86 L61.40,27.44 L62.40,27.03 L63.40,26.64 L64.40,26.25 L65.40,25.87 L66.40,25.50 L67.40,25.14 L68.40,24.79 L69.40,24.44 L70.40,24.11 L71.40,23.78 L72.40,23.46 L73.40,23.14 L74.40,22.84 L75.40,22.54 L76.40,22.25 L77.40,21.96 L78.40,21.68 L79.40,21.41 L80.40,21.14 L81.40,20.87 L82.40,20.61 L83.40,20.35 L84.40,20.10 L85.40,19.85 L86.40,19.60 L87.40,19.36 L88.40,19.12 L89.40,18.89 L90.40,18.66 L91.40,18.44 L92.40,18.22 L93.40,18.01 L94.40,17.81 L95.40,17.62 L96.40,17.43 L97.40,17.26 L98.40,17.10 L99.40,16.96 L100.40,16.83 L101.40,16.73 L102.40,16.65 L103.40,16.59 L104.40,16.55 L105.40,16.52 L106.40,16.50 L107.40,16.49 L108.40,16.49 L109.40,16.49 L110.40,16.49 L111.40,16.50 L112.40,16.50 L113.40,16.51 L114.40,16.52 L115.40,16.54 L116.40,16.58 L117.40,16.65 L118.40,16.76 L119.40,16.89 L120.40,17.06 L121.40,17.26 L122.40,17.48 L123.40,17.72 L124.40,17.99 L125.40,18.27 L126.40,18.57 L127.40,18.89 L128.40,19.24 L129.40,19.60 L130.40,19.98 L131.40,20.38 L132.40,20.79 L133.40,21.21 L134.40,21.62 L135.40,22.02 L136.40,22.41 L137.40,22.81 L138.40,23.22 L139.40,23.67 L140.40,24.15 L141.40,24.68 L142.40,25.25 L143.40,25.85 L144.40,26.45 L145.40,27.03 L146.40,27.58 L147.40,28.09 L148.40,28.55 L149.40,28.98 L150.40,29.36 L151.40,29.72 L152.40,30.05 L153.40,30.36 L154.40,30.65 L155.40,30.92 L156.40,31.20 L157.40,31.48 L158.40,31.78 L159.40,32.10 L160.40,32.45 L161.40,32.84 L162.40,33.28 L163.40,33.77 L164.40,34.31 L165.40,34.91 L166.40,35.57 L167.40,36.31 L168.40,37.14 L169.40,38.08 L170.40,39.15 L171.40,40.30 L172.40,41.45 L173.40,42.50 L174.40,43.37 L175.40,44.10 L176.40,44.69 L177.40,45.19 L178.40,45.62 L179.40,46.02 L180.40,46.41 L181.40,46.83 L182.40,47.31 L183.40,47.88 L184.40,48.56 L185.40,49.37 L186.40,50.28 L187.40,51.28 L188.40,52.34 L189.40,53.46 L190.40,54.58 L191.40,55.67 L192.40,56.71 L193.40,57.66 L194.40,58.48 L195.40,59.16 L196.40,59.72 L197.40,60.26 L198.40,60.88 L199.40,61.68 L200.40,62.72 L201.40,63.88 L202.40,65.08 L203.40,66.21 L204.40,67.16 L205.40,67.91 L206.40,68.55 L207.40,69.18 L208.40,69.89 L209.40,70.78 L210.40,71.85 L211.40,73.04 L212.40,74.25 L213.40,75.43 L214.40,76.48 L215.40,77.42 L216.40,78.27 L217.40,79.10 L218.40,79.93 L219.40,80.81 L220.40,81.77 L221.40,82.80 L222.40,83.87 L223.40,84.97 L224.40,86.08 L225.40,87.16 L226.40,88.22 L227.40,89.27 L228.40,90.29 L229.40,91.31 L230.40,92.33 L231.40,93.35 L232.40,94.38 L233.40,95.42 L234.40,96.47 L235.40,97.53 L236.40,98.59 L237.40,99.67 L238.40,100.74 L239.40,101.82 L240.40,102.90 L241.40,103.99 L242.40,105.07 L243.40,106.16 L244.40,107.25 L245.40,108.34 L246.40,109.44 L247.40,110.53 L248.40,111.64 L249.40,112.74 L250.40,113.86 L251.40,114.97 L252.40,116.09 L253.40,117.21 L254.40,118.34 L255.40,119.47 L256.40,120.60 L257.40,121.73 L258.40,122.87 L259.40,124.02 L260.40,125.16 L261.40,126.31 L262.40,127.47 L263.40,128.63 L264.40,129.79 L265.40,130.95 L266.40,132.12 L267.40,133.30 L268.40,134.47 L269.40,135.66 L270.40,136.84 L271.40,138.03 L272.40,139.23 L273.40,140.42 L274.40,141.63 L275.40,142.84 L276.40,144.05 L277.40,145.27 L278.40,146.49 L279.40,147.72 L280.40,148.95 L281.40,150.19 L282.40,151.43 L283.40,152.68 L284.40,153.94 L285.40,155.20 L286.40,156.47 L287.40,157.74 L288.40,159.02 L289.40,160.31 L290.40,161.61 L291.40,162.91 L292.40,164.22 L293.40,165.54 L294.40,166.87 L295.40,168.21 L296.40,169.56 L297.40,170.92 L298.40,172.29 L299.40,173.67 L300.40,175.06 L301.40,176.47 L302.40,177.89 L303.40,179.32 L304.40,180.77 L305.40,182.23 L306.40,183.70 L307.40,185.20 L308.40,186.71 L309.40,188.24 L310.40,189.79 L311.40,191.36 L312.40,192.95 L313.40,194.57 L314.40,196.21 L315.40,197.87 L316.40,199.57 L317.40,201.29 L318.40,203.04 L319.40,204.82 L320.40,206.64 L321.40,208.49 L322.40,210.38 L323.40,212.31 L324.40,214.28 L325.40,216.29 L326.40,218.35 L327.40,220.46 L328.40,222.62 L329.40,224.83 L330.40,227.10 L331.40,229.42 L332.40,231.81 L333.40,234.26 L334.40,236.79 L335.40,239.38 L336.40,242.05 L337.40,244.79 L338.40,247.62 L339.40,250.53 L340.40,253.53 L341.40,256.62 L342.40,259.81 L343.40,263.10 L344.40,266.49 L345.40,269.99 L346.40,273.60 L347.40,277.33 L348.40,281.17 L349.40,285.14 L350.40,289.23 L351.40,293.45 L352.40,297.81 L353.40,302.30 L354.40,306.93 L355.40,311.70 L356.40,316.61 L357.40,321.67 L358.40,326.88 L359.40,332.24 L360.40,337.76 L361.40,343.43 L362.40,349.25 L363.40,355.23" stroke="#00ffff" stroke-width="1.4" stroke-dasharray="11 7.25 2.4 7.25" stroke-linejoin="round" clip-path="url(#c_cyan)"/>
<path d="M55.40,29.92 L56.40,29.53 L57.40,29.12 L58.40,28.70 L59.40,28.28 L60.40,27.86 L61.40,27.44 L62.40,27.03 L63.40,26.64 L64.40,26.25 L65.40,25.87 L66.40,25.50 L67.40,25.14 L68.40,24.79 L69.40,24.44 L70.40,24.11 L71.40,23.78 L72.40,23.46 L73.40,23.14 L74.40,22.84 L75.40,22.54 L76.40,22.25 L77.40,21.96 L78.40,21.68 L79.40,21.41 L80.40,21.14 L81.40,20.87 L82.40,20.61 L83.40,20.35 L84.40,20.10 L85.40,19.85 L86.40,19.60 L87.40,19.36 L88.40,19.12 L89.40,18.89 L90.40,18.66 L91.40,18.44 L92.40,18.22 L93.40,18.01 L94.40,17.81 L95.40,17.62 L96.40,17.43 L97.40,17.26 L98.40,17.10 L99.40,16.96 L100.40,16.83 L101.40,16.73 L102.40,16.65 L103.40,16.59 L104.40,16.55 L105.40,16.52 L106.40,16.50 L107.40,16.49 L108.40,16.49 L109.40,16.49 L110.40,16.49 L111.40,16.50 L112.40,16.50 L113.40,16.51 L114.40,16.52 L115.40,16.54 L116.40,16.58 L117.40,16.65 L118.40,16.76 L119.40,16.89 L120.40,17.06 L121.40,17.26 L122.40,17.48 L123.40,17.72 L124.40,17.99 L125.40,18.27 L126.40,18.57 L127.40,18.89 L128.40,19.24 L129.40,19.60 L130.40,19.98 L131.40,20.38 L132.40,20.79 L133.40,21.21 L134.40,21.62 L135.40,22.02 L136.40,22.41 L137.40,22.81 L138.40,23.22 L139.40,23.67 L140.40,24.15 L141.40,24.68 L142.40,25.25 L143.40,25.85 L144.40,26.45 L145.40,27.03 L146.40,27.58 L147.40,28.09 L148.40,28.55 L149.40,28.98 L150.40,29.36 L151.40,29.72 L152.40,30.05 L153.40,30.36 L154.40,30.65 L155.40,30.92 L156.40,31.20 L157.40,31.48 L158.40,31.78 L159.40,32.10 L160.40,32.45 L161.40,32.84 L162.40,33.28 L163.40,33.77 L164.40,34.31 L165.40,34.91 L166.40,35.57 L167.40,36.31 L168.40,37.14 L169.40,38.08 L170.40,39.15 L171.40,40.30 L172.40,41.45 L173.40,42.50 L174.40,43.37 L175.40,44.10 L176.40,44.69 L177.40,45.19 L178.40,45.62 L179.40,46.02 L180.40,46.41 L181.40,46.83 L182.40,47.31 L183.40,47.88 L184.40,48.56 L185.40,49.37 L186.40,50.28 L187.40,51.28 L188.40,52.34 L189.40,53.45 L190.40,54.58 L191.40,55.67 L192.40,56.71 L193.40,57.66 L194.40,58.48 L195.40,59.15 L196.40,59.71 L197.40,60.26 L198.40,60.88 L199.40,61.68 L200.40,62.71 L201.40,63.88 L202.40,65.08 L203.40,66.21 L204.40,67.16 L205.40,67.91 L206.40,68.55 L207.40,69.18 L208.40,69.89 L209.40,70.78 L210.40,71.85 L211.40,73.03 L212.40,74.25 L213.40,75.42 L214.40,76.48 L215.40,77.41 L216.40,78.27 L217.40,79.09 L218.40,79.92 L219.40,80.80 L220.40,81.76 L221.40,82.79 L222.40,83.87 L223.40,84.96 L224.40,86.07 L225.40,87.15 L226.40,88.21 L227.40,89.26 L228.40,90.28 L229.40,91.30 L230.40,92.32 L231.40,93.34 L232.40,94.37 L233.40,95.41 L234.40,96.45 L235.40,97.51 L236.40,98.58 L237.40,99.65 L238.40,100.72 L239.40,101.80 L240.40,102.88 L241.40,103.96 L242.40,105.04 L243.40,106.13 L244.40,107.22 L245.40,108.31 L246.40,109.40 L247.40,110.50 L248.40,111.60 L249.40,112.70 L250.40,113.81 L251.40,114.92 L252.40,116.04 L253.40,117.16 L254.40,118.28 L255.40,119.40 L256.40,120.53 L257.40,121.67 L258.40,122.80 L259.40,123.94 L260.40,125.08 L261.40,126.23 L262.40,127.37 L263.40,128.53 L264.40,129.68 L265.40,130.84 L266.40,132.00 L267.40,133.17 L268.40,134.34 L269.40,135.51 L270.40,136.68 L271.40,137.86 L272.40,139.05 L273.40,140.23 L274.40,141.43 L275.40,142.62 L276.40,143.82 L277.40,145.02 L278.40,146.23 L279.40,147.44 L280.40,148.65 L281.40,149.87 L282.40,151.09 L283.40,152.32 L284.40,153.55 L285.40,154.79 L286.40,156.03 L287.40,157.28 L288.40,158.53 L289.40,159.79 L290.40,161.05 L291.40,162.32 L292.40,163.59 L293.40,164.87 L294.40,166.16 L295.40,167.45 L296.40,168.75 L297.40,170.06 L298.40,171.37 L299.40,172.69 L300.40,174.02 L301.40,175.36 L302.40,176.71 L303.40,178.06 L304.40,179.43 L305.40,180.80 L306.40,182.19 L307.40,183.58 L308.40,184.99 L309.40,186.41 L310.40,187.85 L311.40,189.29 L312.40,190.75 L313.40,192.23 L314.40,193.72 L315.40,195.23 L316.40,196.76 L317.40,198.30 L318.40,199.86 L319.40,201.45 L320.40,203.05 L321.40,204.68 L322.40,206.34 L323.40,208.01 L324.40,209.72 L325.40,211.45 L326.40,213.22 L327.40,215.01 L328.40,216.84 L329.40,218.70 L330.40,220.60 L331.40,222.54 L332.40,224.52 L333.40,226.55 L334.40,228.62 L335.40,230.73 L336.40,232.90 L337.40,235.12 L338.40,237.40 L339.40,239.74 L340.40,242.13 L341.40,244.60 L342.40,247.13 L343.40,249.73 L344.40,252.40 L345.40,255.15 L346.40,257.99 L347.40,260.91 L348.40,263.91 L349.40,267.01 L350.40,270.21 L351.40,273.50 L352.40,276.90 L353.40,280.41 L354.40,284.02 L355.40,287.75 L356.40,291.60 L357.40,295.57 L358.40,299.67 L359.40,303.89 L360.40,308.25 L361.40,312.74 L362.40,317.37 L363.40,322.15 L364.40,327.06 L365.40,332.13 L366.40,337.34 L367.40,342.70 L368.40,348.22 L369.40,353.88 L370.40,359.71" stroke="#ff00ff" stroke-width="1.4" stroke-dasharray="11 7.25 2.4 7.25" stroke-linejoin="round"/>
</g>
<path d="M72.8,157.80 H107.6" stroke="#ff00ff" stroke-width="1.4" stroke-dasharray="11.4 7.0 2.6 7.0" fill="none"/>
<g fill="#ff00ff" stroke="#ff00ff" stroke-width="0.85" stroke-linejoin="round" font-family="Liberation Serif, serif"><text x="110.0" y="158.40" font-size="16.5" textLength="13.4" lengthAdjust="spacingAndGlyphs">m</text><text x="123.9" y="164.10" font-size="12" textLength="7.8" lengthAdjust="spacingAndGlyphs">X</text><text x="132.0" y="158.40" font-size="16.5" textLength="41.0" lengthAdjust="spacingAndGlyphs">=1.25</text><text x="173.2" y="158.40" font-size="16.5" textLength="26.6" lengthAdjust="spacingAndGlyphs">keV</text></g>
<path d="M72.8,189.05 H107.6" stroke="#00ffff" stroke-width="1.4" stroke-dasharray="11.4 7.0 2.6 7.0" fill="none"/>
<g fill="#00ffff" stroke="#00ffff" stroke-width="0.85" stroke-linejoin="round" font-family="Liberation Serif, serif"><text x="110.0" y="189.65" font-size="16.5" textLength="13.4" lengthAdjust="spacingAndGlyphs">m</text><text x="123.9" y="195.35" font-size="12" textLength="7.8" lengthAdjust="spacingAndGlyphs">X</text><text x="132.0" y="189.65" font-size="16.5" textLength="41.0" lengthAdjust="spacingAndGlyphs">=1.00</text><text x="173.2" y="189.65" font-size="16.5" textLength="26.6" lengthAdjust="spacingAndGlyphs">keV</text></g>
<path d="M72.8,220.30 H107.6" stroke="#0000ff" stroke-width="1.4" stroke-dasharray="11.4 7.0 2.6 7.0" fill="none"/>
<g fill="#0000ff" stroke="#0000ff" stroke-width="0.85" stroke-linejoin="round" font-family="Liberation Serif, serif"><text x="110.0" y="220.90" font-size="16.5" textLength="13.4" lengthAdjust="spacingAndGlyphs">m</text><text x="123.9" y="226.60" font-size="12" textLength="7.8" lengthAdjust="spacingAndGlyphs">X</text><text x="132.0" y="220.90" font-size="16.5" textLength="41.0" lengthAdjust="spacingAndGlyphs">=0.75</text><text x="173.2" y="220.90" font-size="16.5" textLength="26.6" lengthAdjust="spacingAndGlyphs">keV</text></g>
<path d="M72.8,251.55 H107.6" stroke="#00ff00" stroke-width="1.4" stroke-dasharray="11.4 7.0 2.6 7.0" fill="none"/>
<g fill="#00ff00" stroke="#00ff00" stroke-width="0.85" stroke-linejoin="round" font-family="Liberation Serif, serif"><text x="110.0" y="252.15" font-size="16.5" textLength="13.4" lengthAdjust="spacingAndGlyphs">m</text><text x="123.9" y="257.85" font-size="12" textLength="7.8" lengthAdjust="spacingAndGlyphs">X</text><text x="132.0" y="252.15" font-size="16.5" textLength="41.0" lengthAdjust="spacingAndGlyphs">=0.50</text><text x="173.2" y="252.15" font-size="16.5" textLength="26.6" lengthAdjust="spacingAndGlyphs">keV</text></g>
<path d="M72.8,282.80 H107.6" stroke="#ff1a1a" stroke-width="1.4" stroke-dasharray="11.4 7.0 2.6 7.0" fill="none"/>
<g fill="#ff1a1a" stroke="#ff1a1a" stroke-width="0.85" stroke-linejoin="round" font-family="Liberation Serif, serif"><text x="110.0" y="283.40" font-size="16.5" textLength="13.4" lengthAdjust="spacingAndGlyphs">m</text><text x="123.9" y="289.10" font-size="12" textLength="7.8" lengthAdjust="spacingAndGlyphs">X</text><text x="132.0" y="283.40" font-size="16.5" textLength="41.0" lengthAdjust="spacingAndGlyphs">=0.25</text><text x="173.2" y="283.40" font-size="16.5" textLength="26.6" lengthAdjust="spacingAndGlyphs">keV</text></g>
<g fill="#585858" font-family="Liberation Serif, serif" font-size="18.5">
<text x="77.65" y="351.2" textLength="35.5" lengthAdjust="spacingAndGlyphs">0.01</text>
<text x="164.10" y="351.2" textLength="25.0" lengthAdjust="spacingAndGlyphs">0.1</text>
<text x="254.30" y="351.2" textLength="8.0" lengthAdjust="spacingAndGlyphs">1</text>
<text x="329.95" y="351.2" textLength="20.5" lengthAdjust="spacingAndGlyphs">10</text>
<text x="406.15" y="351.2" textLength="29.5" lengthAdjust="spacingAndGlyphs">100</text>
<text transform="translate(43.6,95.52) rotate(-90)" textLength="40.0" lengthAdjust="spacingAndGlyphs">1000</text>
<text transform="translate(43.6,130.99) rotate(-90)" textLength="31.0" lengthAdjust="spacingAndGlyphs">100</text>
<text transform="translate(43.6,164.71) rotate(-90)" textLength="20.5" lengthAdjust="spacingAndGlyphs">10</text>
<text transform="translate(43.6,198.43) rotate(-90)" textLength="8.0" lengthAdjust="spacingAndGlyphs">1</text>
<text transform="translate(43.6,245.90) rotate(-90)" textLength="23.0" lengthAdjust="spacingAndGlyphs">0.1</text>
<text transform="translate(43.6,291.37) rotate(-90)" textLength="34.0" lengthAdjust="spacingAndGlyphs">0.01</text>
<text transform="translate(43.6,46.4) rotate(-90)" textLength="19" lengthAdjust="spacingAndGlyphs">10</text>
<text transform="translate(35.4,27.5) rotate(-90)" font-size="13" textLength="8.6" lengthAdjust="spacingAndGlyphs">4</text>
<text transform="translate(43.6,329.4) rotate(-90)" textLength="19" lengthAdjust="spacingAndGlyphs">10</text>
<text transform="translate(34.8,308.6) rotate(-90)" font-size="13" textLength="16" lengthAdjust="spacingAndGlyphs">−3</text>
<g transform="translate(193.2,384.7)">
<text x="-0.30" y="0" font-size="17" textLength="9.60" lengthAdjust="spacingAndGlyphs">k</text>
<path d="M22.60,-13.9 H20.10 V3.4 H22.60" fill="none" stroke="#505050" stroke-width="1.05"/>
<text x="26.60" y="0" font-size="17" textLength="10.30" lengthAdjust="spacingAndGlyphs">h</text>
<path d="M38.70,3.4 L49.60,-13.9" fill="none" stroke="#505050" stroke-width="1.05"/>
<text x="50.40" y="0" font-size="17" textLength="13.40" lengthAdjust="spacingAndGlyphs">M</text>
<text x="64.30" y="0" font-size="18.5" textLength="9.70" lengthAdjust="spacingAndGlyphs">p</text>
<text x="74.50" y="0" font-size="18.5" textLength="8.40" lengthAdjust="spacingAndGlyphs">c</text>
<path d="M85.80,-13.9 H88.50 V3.4 H85.80" fill="none" stroke="#505050" stroke-width="1.05"/>
</g>
<g transform="translate(18.7,226.2) rotate(-90)">
<text x="-0.20" y="0" font-size="17" textLength="10.00" lengthAdjust="spacingAndGlyphs">P</text>
<path d="M16.10,-14.6 Q6.60,-5.60 16.10,3.4" fill="none" stroke="#505050" stroke-width="1.05"/>
<text x="17.80" y="0" font-size="17" textLength="9.60" lengthAdjust="spacingAndGlyphs">k</text>
<path d="M28.60,-14.6 Q38.10,-5.60 28.60,3.4" fill="none" stroke="#505050" stroke-width="1.05"/>
<path d="M50.60,-13.9 H47.50 V3.4 H50.60" fill="none" stroke="#505050" stroke-width="1.05"/>
<text x="53.20" y="0" font-size="17" textLength="13.40" lengthAdjust="spacingAndGlyphs">M</text>
<text x="67.80" y="0" font-size="18.5" textLength="9.70" lengthAdjust="spacingAndGlyphs">p</text>
<text x="78.50" y="0" font-size="18.5" textLength="8.40" lengthAdjust="spacingAndGlyphs">c</text>
<path d="M87.60,3.4 L98.40,-13.9" fill="none" stroke="#505050" stroke-width="1.05"/>
<text x="99.60" y="0" font-size="17" textLength="10.30" lengthAdjust="spacingAndGlyphs">h</text>
<path d="M111.40,-13.9 H114.70 V3.4 H111.40" fill="none" stroke="#505050" stroke-width="1.05"/>
<text x="116.20" y="-9.2" font-size="13" textLength="8.80" lengthAdjust="spacingAndGlyphs">3</text>
</g>
</g>
</svg>
</body></html>
